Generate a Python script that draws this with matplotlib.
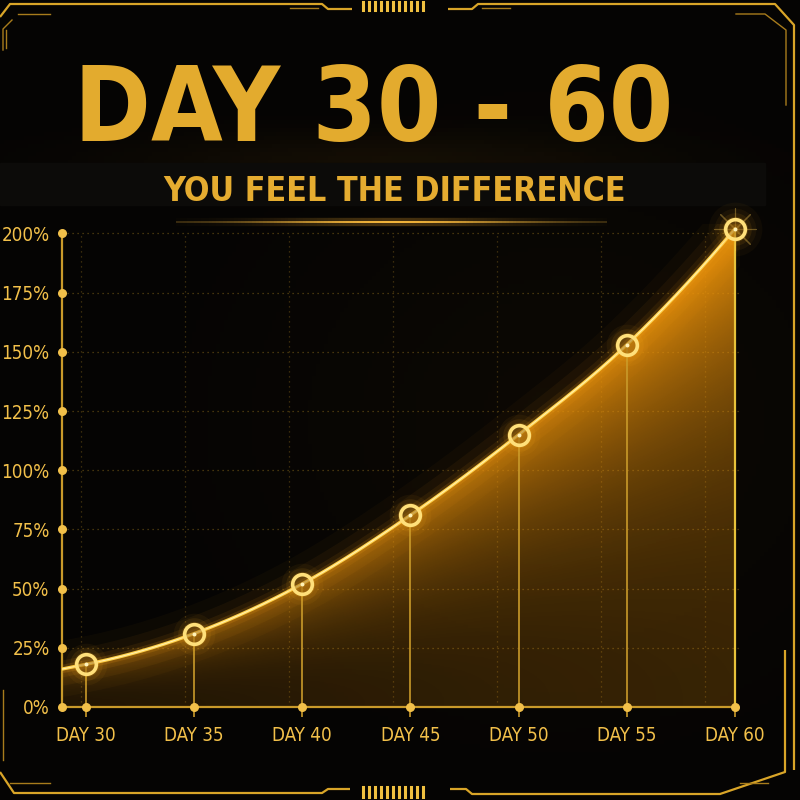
import matplotlib
matplotlib.use("Agg")
import matplotlib.pyplot as plt
import matplotlib.font_manager as fm
from matplotlib.collections import LineCollection
import numpy as np

# data
days = [30, 35, 40, 45, 50, 55, 60]
growth = [18, 31, 52, 81, 115, 153, 202]
ytick_vals = [0, 25, 50, 75, 100, 125, 150, 175, 200]
xtick_labels = ["DAY 30", "DAY 35", "DAY 40", "DAY 45", "DAY 50", "DAY 55", "DAY 60"]
title = "DAY 30 - 60"
subtitle = "YOU FEEL THE DIFFERENCE"

GOLD = "#f2c04a"
GOLD_DIM = "#c99a2a"
BG = "#050403"


def find_condensed(bold):
    found = []
    for f in fm.fontManager.ttflist:
        narrow = ("Condensed" in f.name or "Narrow" in f.name
                  or str(f.stretch) in ("condensed", "semi-condensed", "extra-condensed"))
        if not narrow or f.style != "normal":
            continue
        w = f.weight if isinstance(f.weight, int) else (700 if "bold" in str(f.weight) else 400)
        found.append((abs(w - (700 if bold else 450)), f.fname, f.name))
    if found:
        found.sort()
        return fm.FontProperties(fname=found[0][1]), found[0][2]
    return fm.FontProperties(family="DejaVu Sans", weight="bold" if bold else "normal"), "DejaVu"


FP_BOLD, name_b = find_condensed(True)
FP_REG, name_r = find_condensed(False)


def smooth(xs, ys, x_left, n=40):
    # cubic hermite through the points, only for drawing the line
    xs = np.asarray(xs, float)
    ys = np.asarray(ys, float)
    h = xs[1] - xs[0]
    m = np.zeros_like(ys)
    m[1:-1] = (ys[2:] - ys[:-2]) / (xs[2:] - xs[:-2])
    m[0] = (-3 * ys[0] + 4 * ys[1] - ys[2]) / (2 * h)
    m[-1] = (3 * ys[-1] - 4 * ys[-2] + ys[-3]) / (2 * h)
    lead = np.linspace(x_left, xs[0], 10)
    px = list(lead)
    py = list(ys[0] - m[0] * (xs[0] - lead))
    for i in range(len(xs) - 1):
        t = np.linspace(0, 1, n)[1:]
        dx = xs[i + 1] - xs[i]
        h00 = 2 * t**3 - 3 * t**2 + 1
        h10 = t**3 - 2 * t**2 + t
        h01 = -2 * t**3 + 3 * t**2
        h11 = t**3 - t**2
        px.extend(xs[i] + t * dx)
        py.extend(h00 * ys[i] + h10 * dx * m[i] + h01 * ys[i + 1] + h11 * dx * m[i + 1])
    return np.array(px), np.array(py)


fig = plt.figure(figsize=(8, 8), dpi=100, facecolor=BG)

# ---------- decoration layer in pixel coords ----------
deco = fig.add_axes([0, 0, 1, 1], zorder=0)
deco.set_xlim(0, 800)
deco.set_ylim(800, 0)
deco.axis("off")
deco.set_facecolor(BG)

# soft warm haze in the background
yy, xx = np.mgrid[0:800:4, 0:800:4]
haze = np.exp(-(((xx - 560) / 300) ** 2 + ((yy - 420) / 260) ** 2))
img = np.zeros(haze.shape + (4,))
img[..., 0], img[..., 1], img[..., 2] = 0.35, 0.22, 0.04
img[..., 3] = 0.08 * haze
deco.imshow(img, extent=[0, 800, 800, 0], zorder=0)

# glow behind the title
tg = np.exp(-(((xx - 380) / 260) ** 2 + ((yy - 160) / 30) ** 2))
img2 = np.zeros(tg.shape + (4,))
img2[..., 0], img2[..., 1], img2[..., 2] = 0.6, 0.4, 0.08
img2[..., 3] = 0.10 * tg
deco.imshow(img2, extent=[0, 800, 800, 0], zorder=0.5)

# subtitle band
deco.add_patch(plt.Rectangle((0, 163), 765, 42, color="#0c0b09", zorder=1))

# frame lines
frame_col = "#d9a528"
fl = dict(color=frame_col, lw=1.6, zorder=2, solid_capstyle="butt")
thin = dict(color="#a87c1c", lw=1.0, zorder=2)
deco.plot([0, 10, 322, 328, 352], [17, 4, 4, 9, 9], **fl)
deco.plot([448, 472, 478, 775, 794, 794], [9, 9, 4, 4, 25, 770], **fl)
deco.plot([18, 50], [14, 14], **thin)
deco.plot([290, 318], [8, 8], **thin)
deco.plot([482, 510], [8, 8], **thin)
deco.plot([736, 765, 786, 786], [14, 14, 30, 105], **thin)
deco.plot([12, 3, 3], [20, 29, 50], **thin)
deco.plot([6, 6], [30, 48], **thin)
deco.plot([0, 14, 322, 328, 350], [772, 793, 793, 789, 789], **fl)
deco.plot([450, 466, 472, 720, 785, 785], [789, 789, 794, 794, 772, 650], **fl)
deco.plot([10, 50], [783, 783], **thin)
deco.plot([740, 768], [783, 783], **thin)
deco.plot([3, 3], [690, 760], **thin)
for bx in np.linspace(363, 423, 11):
    deco.plot([bx, bx], [2, 10], color="#f0c040", lw=2.2, zorder=2)
    deco.plot([bx, bx], [787, 797], color="#f0c040", lw=2.2, zorder=2)

# glowing line under the subtitle
gx = np.linspace(176, 607, 120)
segs = [[(gx[i], 222), (gx[i + 1], 222)] for i in range(len(gx) - 1)]
ga = np.exp(-((gx[:-1] - 390) / 130) ** 2)
cols = [(0.95, 0.72, 0.25, 0.15 + 0.85 * a) for a in ga]
deco.add_collection(LineCollection(segs, colors=cols, linewidths=1.4, zorder=2))
deco.add_collection(LineCollection(segs, colors=[(1, 0.7, 0.2, 0.25 * a) for a in ga],
                                   linewidths=6, zorder=2))

# title and subtitle
t1 = deco.text(374, 141, title, ha="center", va="baseline", color="#e3ab2e",
               fontproperties=FP_BOLD, fontsize=96, zorder=3)
t2 = deco.text(395, 201, subtitle, ha="center", va="baseline", color="#e5ac30",
               fontproperties=FP_BOLD, fontsize=28, zorder=3)
fig.canvas.draw()
r = fig.canvas.get_renderer()
for t, target in [(t1, 600), (t2, 465)]:
    w = t.get_window_extent(r).width
    t.set_fontsize(t.get_fontsize() * target / w)

# ---------- chart ----------
x_left, x_right = 28.9, 60.23
y_top = 204
ax = fig.add_axes([62 / 800, 93 / 800, 678 / 800, 483 / 800], zorder=1)
ax.set_facecolor("none")
ax.set_xlim(x_left, x_right)
ax.set_ylim(0, y_top)

px, py = smooth(days, growth, x_left)

# gradient fill under the curve
fill = ax.fill_between(px, 0, py, color="none", lw=0)
gxs = np.linspace(x_left, x_right, 300)
gys = np.linspace(0, y_top, 300)
GX, GY = np.meshgrid(gxs, gys)
cy = np.interp(GX, px, py)
rel = np.clip(GY / cy, 0, 1)
right = (GX - x_left) / (x_right - x_left)
alpha = 0.12 + 0.75 * rel**2.5 * (0.35 + 0.65 * right) + 0.10 * right
grad = np.zeros(GX.shape + (4,))
grad[..., 0], grad[..., 1], grad[..., 2] = 0.93, 0.58, 0.04
grad[..., 3] = np.clip(alpha, 0, 0.9)
im = ax.imshow(grad, extent=[x_left, x_right, 0, y_top], origin="lower",
               aspect="auto", zorder=1)
im.set_clip_path(fill.get_paths()[0], transform=ax.transData)

# haze just above the curve
for lw, a in [(40, 0.03), (24, 0.05), (12, 0.08), (6, 0.15)]:
    ax.plot(px, py, color="#ffa51c", lw=lw, alpha=a, solid_capstyle="round", zorder=2)

# dotted grid
for v in ytick_vals[1:]:
    ax.axhline(v, color="#5a4512", lw=0.9, ls=(0, (1, 3)), zorder=0.5)
for v in np.linspace(29.8, 58.6, 7):
    ax.axvline(v, ymax=200 / y_top, color="#4a3810", lw=0.9, ls=(0, (1, 3)), zorder=0.5)

# drop lines
ax.vlines(days[:-1], 0, growth[:-1], color=GOLD_DIM, lw=1.2, zorder=3)
ax.vlines(days[-1:], 0, growth[-1:], color="#e8c23a", lw=1.6, zorder=3)

# main line
ax.plot(px, py, color="#ffd24a", lw=2.4, zorder=4, solid_capstyle="round")
ax.plot(px, py, color="#fff1b0", lw=0.8, zorder=4)

# markers
for s, a in [(900, 0.05), (550, 0.09), (330, 0.16)]:
    ax.scatter(days, growth, s=s, color="#ffb21f", alpha=a, lw=0, zorder=5, clip_on=False)
ax.scatter(days[-1:], growth[-1:], s=1500, color="#ffb21f", alpha=0.04, lw=0, zorder=5,
           clip_on=False)
# small star rays on the last point
ax.scatter(days[-1:], growth[-1:], s=900, marker=(8, 2, 0), color="#ffcf55", alpha=0.35,
           lw=0.8, zorder=5, clip_on=False)
ax.scatter(days, growth, s=200, facecolor=(0.45, 0.28, 0.03, 0.35), edgecolor="#ffe07a",
           lw=2.6, zorder=6, clip_on=False)
ax.scatter(days, growth, s=8, color="#fff2b8", lw=0, zorder=7, clip_on=False)

# axes styling
for sp in ["top", "right"]:
    ax.spines[sp].set_visible(False)
ax.spines["left"].set_color(GOLD_DIM)
ax.spines["left"].set_linewidth(1.6)
ax.spines["left"].set_bounds(0, 200)
ax.spines["bottom"].set_color(GOLD_DIM)
ax.spines["bottom"].set_linewidth(1.6)
ax.spines["bottom"].set_bounds(x_left, 60)

lab_size = 13.5 if name_r != "DejaVu" else 11.5
ax.set_yticks(ytick_vals)
ax.set_yticklabels([f"{v}%" for v in ytick_vals])
ax.set_xticks(days)
ax.set_xticklabels(xtick_labels)
ax.tick_params(axis="y", length=0, pad=9, colors=GOLD)
ax.tick_params(axis="x", length=7, width=1.2, direction="out", color=GOLD_DIM,
               pad=7, colors=GOLD)
for lab in ax.get_xticklabels() + ax.get_yticklabels():
    lab.set_fontproperties(FP_REG)
    lab.set_fontsize(lab_size)
    lab.set_color(GOLD)

# tick dots
ax.scatter([x_left] * len(ytick_vals), ytick_vals, s=30, color=GOLD, zorder=8, clip_on=False)
ax.scatter(days, [0] * len(days), s=30, color=GOLD, zorder=8, clip_on=False)

fig.savefig("out.png", dpi=100, facecolor=BG)
